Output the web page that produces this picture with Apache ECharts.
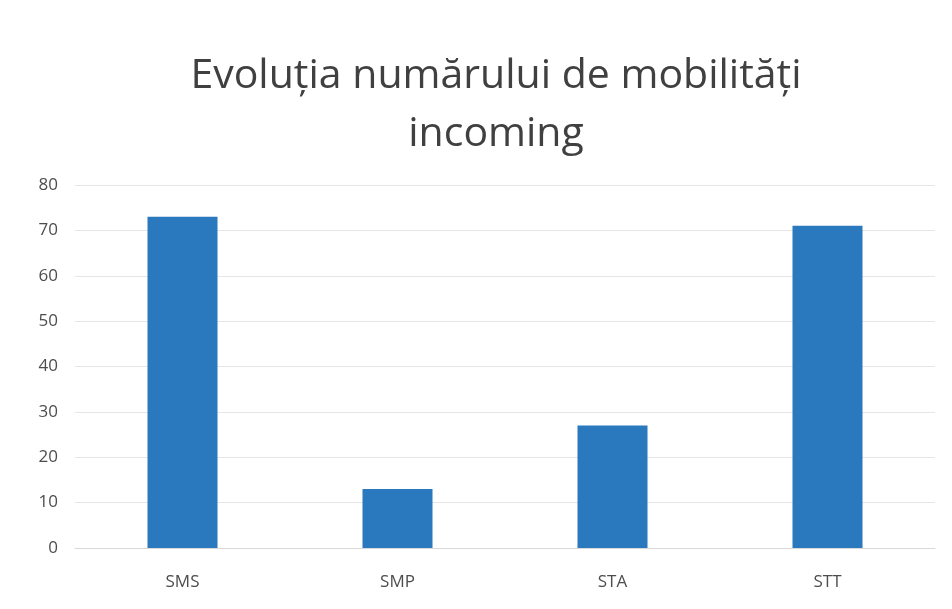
<!DOCTYPE html>
<html>
<head>
<meta charset="utf-8">
<script src="https://cdn.jsdelivr.net/npm/echarts@6/dist/echarts.min.js"></script>
<style>
  html, body { margin: 0; padding: 0; background: #fff; }
  #chart { width: 952px; height: 609px; }
</style>
</head>
<body>
<div id="chart"></div>
<script>
const categories = ["SMS", "SMP", "STA", "STT"];
const mobilities = [73, 13, 27, 71];
const titleLines = ["Evoluția numărului de mobilități", "incoming"];

const chart = echarts.init(document.getElementById("chart"));
chart.setOption({
  backgroundColor: "#ffffff",
  animation: false,
  title: {
    text: titleLines.join("\n"),
    left: 491,
    textAlign: "center",
    top: 42,
    textStyle: {
      fontFamily: "Open Sans",
      fontSize: 41,
      fontWeight: "normal",
      color: "#404040",
      lineHeight: 58,
    },
  },
  grid: { left: 75, right: 17, top: 185, bottom: 61 },
  xAxis: {
    type: "category",
    data: categories,
    axisLine: { lineStyle: { color: "#d9d9d9" } },
    axisTick: { show: false },
    axisLabel: { color: "#4d4d4d", fontSize: 17, fontFamily: "Open Sans", margin: 26 },
  },
  yAxis: {
    type: "value",
    min: 0, max: 80, interval: 10,
    axisLine: { show: false },
    axisTick: { show: false },
    splitLine: { lineStyle: { color: "#e6e6e6" } },
    axisLabel: { color: "#4d4d4d", fontSize: 17, fontFamily: "Open Sans", margin: 17 },
  },
  series: [{
    type: "bar",
    data: mobilities,
    barWidth: 70,
    itemStyle: { color: "#2a78bd" },
  }],
});
</script>
</body>
</html>
